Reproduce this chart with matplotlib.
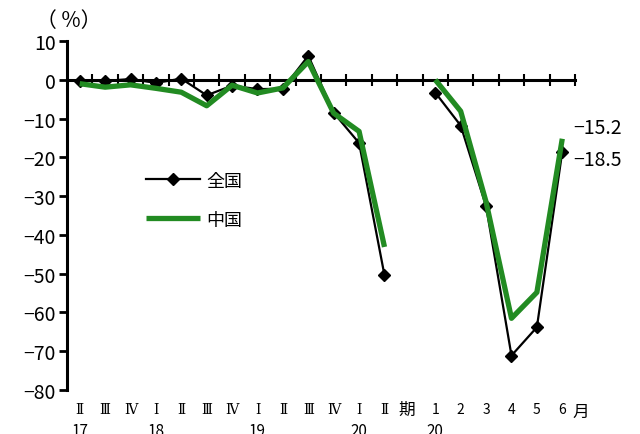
import matplotlib
matplotlib.use("Agg")
import matplotlib.pyplot as plt
import numpy as np

plt.rcParams['font.family'] = ['Noto Sans CJK JP', 'DejaVu Sans']
plt.rcParams['axes.unicode_minus'] = True

# categories: quarters 2017 II .. 2020 II, a gap, then months 2020 1..6
tick_labels = ['Ⅱ', 'Ⅲ', 'Ⅳ', 'Ⅰ', 'Ⅱ', 'Ⅲ', 'Ⅳ', 'Ⅰ', 'Ⅱ', 'Ⅲ', 'Ⅳ', 'Ⅰ', 'Ⅱ',
               '', '1', '2', '3', '4', '5', '6']
year_labels = {0: '17', 3: '18', 7: '19', 11: '20', 14: '20'}

nan = np.nan
zenkoku = [-0.3, -0.3, 0.2, -0.8, 0.3, -4.0, -1.5, -2.4, -2.3, 6.2, -8.5, -16.3, -50.4,
           nan, -3.3, -11.8, -32.6, -71.1, -63.8, -18.5]
chugoku = [-1.0, -1.9, -1.3, -2.2, -3.2, -6.7, -1.4, -3.4, -2.1, 4.7, -8.6, -13.3, -43.1,
           nan, 0.0, -8.1, -31.5, -61.5, -54.8, -15.2]

x = np.arange(len(tick_labels))

fig = plt.figure(figsize=(6.4, 4.35), dpi=100)
ax = fig.add_axes([0.1047, 0.101, 0.7937, 0.8024])

ax.plot(x, zenkoku, color='black', lw=1.6, marker='D', ms=6, label='全国', zorder=3)
ax.plot(x, chugoku, color='#228b22', lw=3.8, label='中国', zorder=4,
        solid_capstyle='butt')

ax.set_xlim(-0.5, len(x) - 0.5)
ax.set_ylim(-80, 10)
ax.set_yticks(np.arange(-80, 11, 10))
ax.tick_params(axis='y', direction='out', length=6, width=2, labelsize=14, pad=2)

for s in ['top', 'right']:
    ax.spines[s].set_visible(False)
ax.spines['left'].set_linewidth(2.2)
ax.spines['bottom'].set_position(('data', 0))
ax.spines['bottom'].set_linewidth(2.2)
ax.spines['bottom'].set_bounds(-0.5, len(x) - 0.5)
ax.set_xticks(np.arange(0.5, len(x), 1.0))
ax.set_xticklabels([])
ax.tick_params(axis='x', direction='inout', length=9, width=1.5)

lab_tr = ax.get_xaxis_transform()
for i, t in enumerate(tick_labels):
    if t:
        fam = ['DejaVu Serif', 'Noto Sans CJK JP'] if not t.isdigit() else None
        ax.text(i, -0.055, t, transform=lab_tr, ha='center', va='center', fontsize=10,
                family=fam)
ax.text(12.55, -0.055, '期', transform=lab_tr, ha='left', va='center', fontsize=12)
ax.text(19.4, -0.06, '月', transform=lab_tr, ha='left', va='center', fontsize=12)
for i, t in year_labels.items():
    ax.text(i, -0.092, t, transform=lab_tr, ha='center', va='top', fontsize=11)

ax.text(-0.45, 1.06, '（ %）', transform=lab_tr, ha='center', va='center', fontsize=15)

ax.text(19.45, -12.4, '−15.2', ha='left', va='center', fontsize=14)
ax.text(19.45, -20.6, '−18.5', ha='left', va='center', fontsize=14)

ax.legend(loc='upper left', bbox_to_anchor=(0.124, 0.672), frameon=False, fontsize=13,
          handlelength=3.0, labelspacing=1.15, handletextpad=0.3)

fig.savefig('out.png', dpi=100)
